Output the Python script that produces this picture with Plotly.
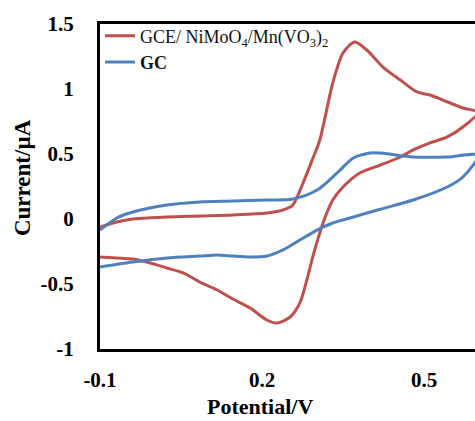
import plotly.graph_objects as go

# Red: GCE/ NiMoO4/Mn(VO3)2  (forward sweep then reverse sweep)
red_x = [-0.100, -0.069, -0.039, 0.024, 0.085, 0.146, 0.209, 0.239, 0.257, 0.276, 0.293, 0.307,
         0.331, 0.350, 0.372, 0.394, 0.424, 0.456, 0.487, 0.511, 0.535, 0.572, 0.600,
         0.572, 0.543, 0.511, 0.480, 0.456, 0.419, 0.381, 0.350, 0.331, 0.317, 0.307, 0.294,
         0.283, 0.270, 0.252, 0.228, 0.209, 0.178, 0.146, 0.117, 0.085, 0.054, 0.024, -0.007,
         -0.039, -0.069, -0.100]
red_y = [-0.062, -0.023, 0.000, 0.015, 0.023, 0.031, 0.046, 0.069, 0.108, 0.277, 0.454, 0.608,
         1.046, 1.277, 1.362, 1.300, 1.169, 1.069, 0.977, 0.954, 0.915, 0.854, 0.820,
         0.708, 0.631, 0.585, 0.531, 0.477, 0.415, 0.354, 0.246, 0.146, 0.015, -0.108, -0.292,
         -0.469, -0.646, -0.754, -0.800, -0.777, -0.685, -0.615, -0.546, -0.485, -0.415, -0.377, -0.338,
         -0.308, -0.300, -0.292]

# Blue: GC
blue_x = [-0.100, -0.069, -0.039, 0.024, 0.085, 0.146, 0.209, 0.257, 0.302, 0.339, 0.369, 0.400,
          0.419, 0.480, 0.543, 0.600,
          0.572, 0.543, 0.480, 0.419, 0.363, 0.331, 0.302, 0.270, 0.239, 0.209, 0.178, 0.146,
          0.117, 0.085, 0.024, -0.039, -0.100]
blue_y = [-0.085, 0.008, 0.054, 0.108, 0.131, 0.138, 0.146, 0.154, 0.223, 0.354, 0.469, 0.508,
          0.508, 0.477, 0.477, 0.490,
          0.323, 0.246, 0.146, 0.075, 0.008, -0.031, -0.085, -0.162, -0.238, -0.285, -0.292, -0.285,
          -0.277, -0.285, -0.300, -0.331, -0.369]

x_ticks = [-0.1, 0.2, 0.5]
x_ticktext = ["-0.1", "0.2", "0.5"]
y_ticks = [-1, -0.5, 0, 0.5, 1, 1.5]
y_ticktext = ["-1", "-0.5", "0", "0.5", "1", "1.5"]

FONT = "Liberation Serif, Times New Roman, serif"
RED = "#C0504D"
BLUE = "#4F81BD"

fig = go.Figure()
fig.add_trace(go.Scatter(x=red_x, y=red_y, mode="lines",
                         name="GCE/ NiMoO<sub>4</sub>/Mn(VO<sub>3</sub>)<sub>2</sub>",
                         line=dict(color=RED, width=3, shape="spline", smoothing=0.8)))
fig.add_trace(go.Scatter(x=blue_x, y=blue_y, mode="lines", name="<b>GC</b>",
                         line=dict(color=BLUE, width=3, shape="spline", smoothing=0.8)))

fig.update_layout(
    width=475, height=421,
    margin=dict(l=100, r=0, t=24, b=72),
    paper_bgcolor="white", plot_bgcolor="white",
    font=dict(family=FONT, color="black"),
    showlegend=True,
    legend=dict(x=0.0, y=1.02, xanchor="left", yanchor="top",
                bgcolor="rgba(0,0,0,0)", font=dict(family=FONT, size=18, color="#111111"),
                itemwidth=30, tracegroupgap=0),
    xaxis=dict(range=[-0.1, 0.5944], tickvals=x_ticks, ticktext=x_ticktext,
               showline=True, linecolor="black", linewidth=3, mirror=True,
               showgrid=False, zeroline=False, ticks="",
               tickfont=dict(family=FONT, size=21, weight="bold"), ticklabelstandoff=10),
    yaxis=dict(range=[-1, 1.5], tickvals=y_ticks, ticktext=y_ticktext,
               showline=True, linecolor="black", linewidth=3, mirror=False,
               showgrid=False, zeroline=False, ticks="",
               tickfont=dict(family=FONT, size=21, weight="bold"), ticklabelstandoff=19),
    annotations=[
        dict(text="Potential/V", xref="paper", yref="paper", x=0.4267, y=-0.176,
             xanchor="center", yanchor="middle", showarrow=False,
             font=dict(family=FONT, size=22, weight="bold")),
        dict(text="Current/µA", xref="paper", yref="paper", x=-0.208, y=0.526,
             xanchor="center", yanchor="middle", showarrow=False, textangle=-90,
             font=dict(family=FONT, size=23, weight="bold")),
    ],
)

fig.write_html("out.html", config={"displayModeBar": False},
               post_script="document.body.style.margin='0';document.body.style.overflow='hidden';")
